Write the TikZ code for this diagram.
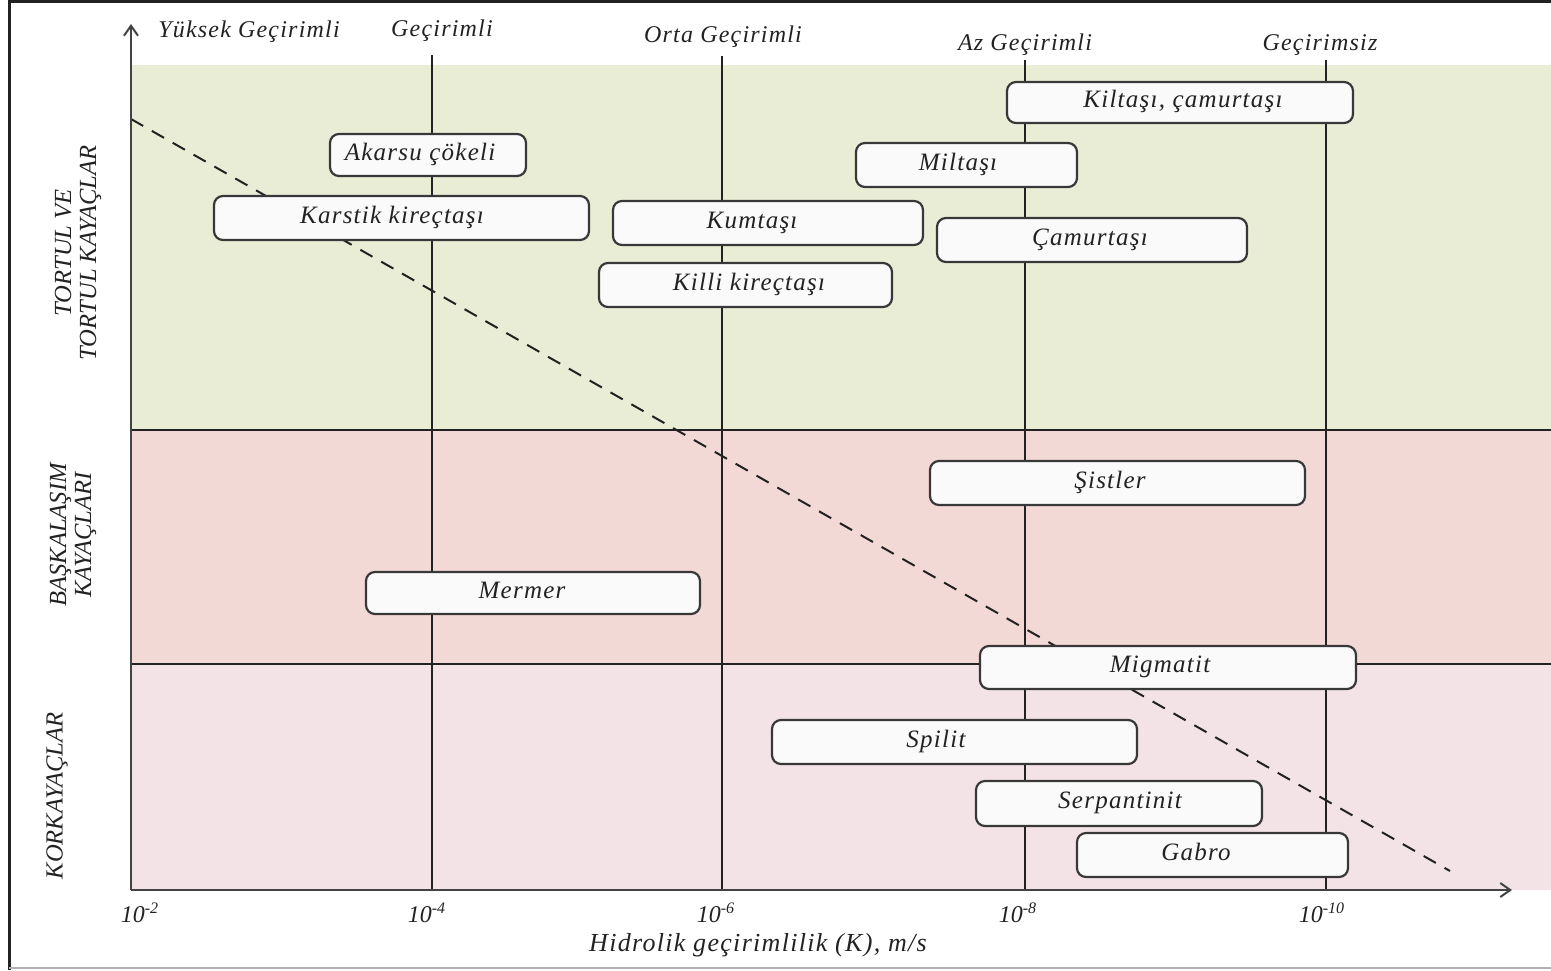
\documentclass[tikz,border=0pt]{standalone}
\usepackage{fontspec}
\setmainfont{Liberation Serif}
\newfontfamily\spacedfont{Liberation Serif}[LetterSpace=5]
\usetikzlibrary{arrows.meta}
\definecolor{bandgreen}{HTML}{E9EDD6}
\definecolor{bandred}{HTML}{F3D9D6}
\definecolor{bandpink}{HTML}{F3E3E6}
\definecolor{boxfill}{HTML}{FAFAFA}
\definecolor{ink}{HTML}{222222}
\tikzset{
  rbox/.style={draw=ink!90, line width=1.1pt, fill=boxfill, rounded corners=4.5pt, inner sep=0pt},
  rtext/.style={font=\spacedfont\itshape\fontsize{12.5}{14}\selectfont, text=ink, inner sep=0pt, text height=0.7em, text depth=0.2em},
  toplbl/.style={font=\spacedfont\itshape\fontsize{12}{14}\selectfont, text=ink, inner sep=0pt},
  ticklbl/.style={font=\itshape\fontsize{12}{14}\selectfont, text=ink, inner sep=0pt},
  axislbl/.style={font=\spacedfont\itshape\fontsize{13}{15}\selectfont, text=ink, inner sep=0pt},
  sidelbl/.style={font=\itshape\fontsize{12.3}{12.5}\selectfont, text=ink, inner sep=0pt, rotate=90, align=center},
  gridline/.style={draw=ink, line width=1pt},
  axisline/.style={draw=ink!85, line width=1pt, -{Straight Barb[length=5pt,width=7pt]}},
}
\newcommand\rock[7]{%
  \node[rbox, minimum width={(#4-#2)*0.5pt}, minimum height={(#5-#3)*0.5pt}] (#1) at ({(#2+#4)/2},{(#3+#5)/2}) {};
  \node[rtext] (#1t) at (#6,{(#3+#5)/2}) {#7};}
\begin{document}
\begin{tikzpicture}[x=0.5pt,y=-0.5pt]
\useasboundingbox (0,0) rectangle (1551,970);
% frame
\draw[ink, line width=1.5pt] (9,970) -- (9,1.5) -- (1551,1.5);
\draw[gray!60, line width=0.8pt] (9,968) -- (1551,968);
% bands
\fill[bandgreen] (131,65) rectangle (1551,430);
\fill[bandred] (131,430) rectangle (1551,664);
\fill[bandpink] (131,664) rectangle (1551,890);
% coordinates
\coordinate (o) at (131,890);
\coordinate (ytop) at (131,24);
\coordinate (xend) at (1512,890);
\coordinate (h1a) at (131,430); \coordinate (h1b) at (1551,430);
\coordinate (h2a) at (131,664); \coordinate (h2b) at (1551,664);
\coordinate (v4t) at (432,55); \coordinate (v4b) at (432,890);
\coordinate (v6t) at (722,56); \coordinate (v6b) at (722,890);
\coordinate (v8t) at (1025,60); \coordinate (v8b) at (1025,890);
\coordinate (v10t) at (1326,60); \coordinate (v10b) at (1326,890);
\coordinate (da) at (131,119); \coordinate (db) at (1450,871);
% lines
\draw[gridline] (h1a) -- (h1b);
\draw[gridline] (h2a) -- (h2b);
\draw[gridline] (v4t) -- (v4b);
\draw[gridline] (v6t) -- (v6b);
\draw[gridline] (v8t) -- (v8b);
\draw[gridline] (v10t) -- (v10b);
\draw[ink, line width=1pt, dash pattern=on 7pt off 5pt] (da) -- (db);
\draw[axisline] (o) -- (ytop);
\draw[axisline] (o) -- (xend);
% boxes
\rock{kil}{1007}{82}{1353}{123}{1183}{Kiltaşı, çamurtaşı}
\rock{aka}{330}{134}{526}{176}{420}{Akarsu çökeli}
\rock{mil}{856}{143}{1077}{187}{958}{Miltaşı}
\rock{kar}{214}{196}{589}{240}{392}{Karstik kireçtaşı}
\rock{kum}{613}{201}{923}{245}{752}{Kumtaşı}
\rock{cam}{937}{218}{1247}{262}{1090}{Çamurtaşı}
\rock{kik}{599}{263}{892}{307}{749}{Killi kireçtaşı}
\rock{sis}{930}{461}{1305}{505}{1110}{Şistler}
\rock{mer}{366}{572}{700}{614}{522}{Mermer}
\rock{mig}{980}{646}{1356}{689}{1160}{Migmatit}
\rock{spi}{772}{720}{1137}{764}{936}{Spilit}
\rock{ser}{976}{781}{1262}{826}{1120}{Serpantinit}
\rock{gab}{1077}{833}{1348}{877}{1196}{Gabro}
% top labels
\node[toplbl] (t1) at (249,32) {Yüksek Geçirimli};
\node[toplbl] (t2) at (442,31) {Geçirimli};
\node[toplbl] (t3) at (723,37) {Orta Geçirimli};
\node[toplbl] (t4) at (1025,45) {Az Geçirimli};
\node[toplbl] (t5) at (1320,45) {Geçirimsiz};
% tick labels
\node[ticklbl] (k2) at (140,913) {10\textsuperscript{-2}};
\node[ticklbl] (k4) at (427,913) {10\textsuperscript{-4}};
\node[ticklbl] (k6) at (716,913) {10\textsuperscript{-6}};
\node[ticklbl] (k8) at (1018,913) {10\textsuperscript{-8}};
\node[ticklbl] (k10) at (1322,913) {10\textsuperscript{-10}};
\node[axislbl] (xl) at (758,945) {Hidrolik geçirimlilik (K), m/s};
% side labels
\node[sidelbl] (s1) at (78,253) {TORTUL VE\\TORTUL KAYAÇLAR};
\node[sidelbl] (s2) at (73,535) {BAŞKALAŞIM\\KAYAÇLARI};
\node[sidelbl] (s3) at (57,796) {KORKAYAÇLAR};
\end{tikzpicture}
\end{document}
